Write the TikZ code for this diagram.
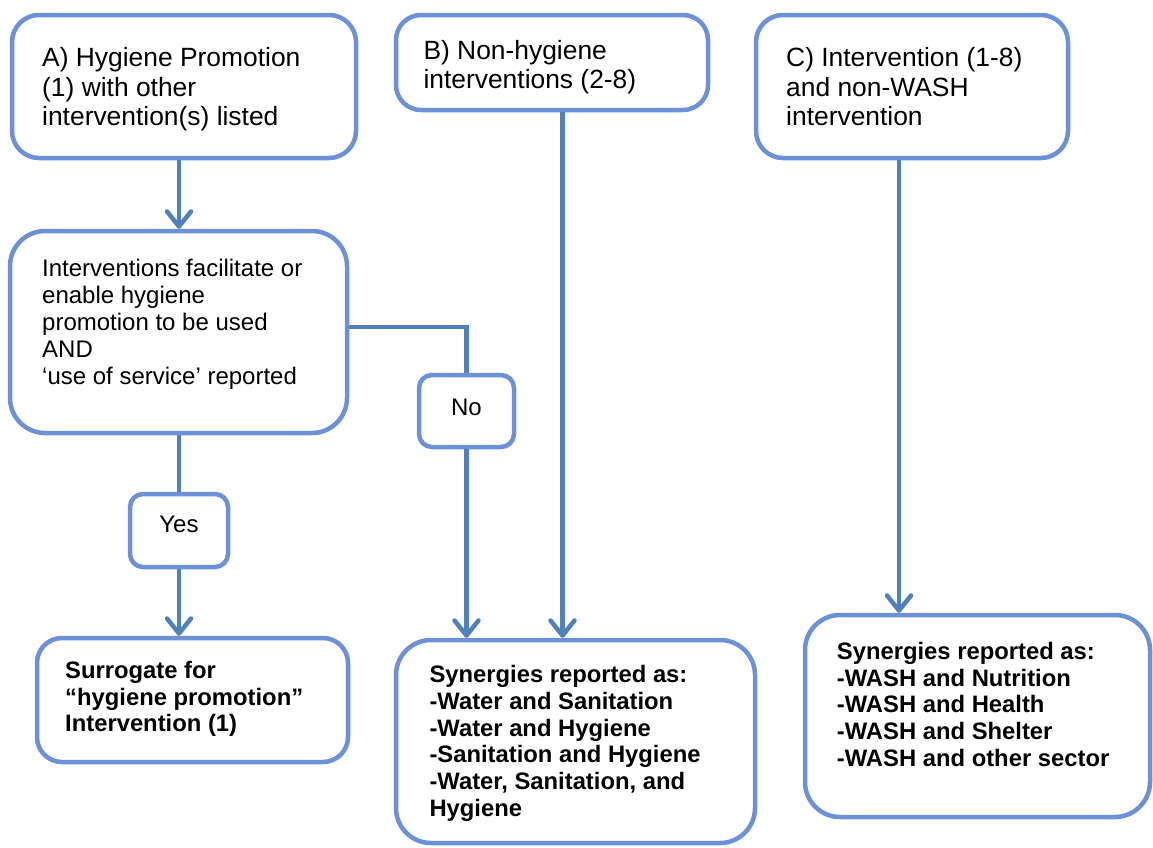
\documentclass[tikz,border=0pt]{standalone}
\usepackage{fontspec}
\setmainfont{Liberation Sans}
\usetikzlibrary{arrows.meta}

\definecolor{boxblue}{RGB}{108,145,217}
\definecolor{linkblue}{RGB}{79,129,189}

% left-aligned stack of lines whose baseline is the first line
\newcommand{\stacklines}[1]{\begin{tabular}[t]{@{}l@{}}#1\end{tabular}}
\newcommand{\headfont}{\fontsize{26.4}{29.4}\selectfont}
\newcommand{\bodyfont}{\fontsize{24}{27.2}\selectfont}
\newcommand{\listfont}{\fontsize{23.8}{26.7}\selectfont\bfseries}

\tikzset{
  panel/.style={draw=boxblue, line width=4.5pt, fill=white, inner sep=0pt},
  label/.style={anchor=base west, inner sep=0pt, text=black},
  link/.style={draw=linkblue, line width=4.5pt},
  arrowed/.style={-{Straight Barb[length=15pt,width=24pt,round]}}
}

\begin{document}
\begin{tikzpicture}[x=1pt,y=-1pt]
\useasboundingbox (0,0) rectangle (1153,847);

% boxes
\node[panel, rounded corners=27pt, minimum width=344pt, minimum height=143pt] (A) at (184,86.5) {};
\node[panel, rounded corners=25pt, minimum width=312pt, minimum height=95pt] (B) at (552,62.5) {};
\node[panel, rounded corners=27pt, minimum width=312pt, minimum height=143pt] (C) at (912,86.5) {};
\node[panel, rounded corners=35pt, minimum width=337pt, minimum height=202pt] (M) at (178.5,332) {};
\node[panel, rounded corners=13pt, minimum width=95pt, minimum height=72pt] (No) at (466.5,411) {};
\node[panel, rounded corners=13pt, minimum width=98pt, minimum height=73pt] (Yes) at (179,530.5) {};
\node[panel, rounded corners=25pt, minimum width=311pt, minimum height=124pt] (Sur) at (192.5,700) {};
\node[panel, rounded corners=35pt, minimum width=359pt, minimum height=203pt] (SynB) at (575.5,741.5) {};
\node[panel, rounded corners=35pt, minimum width=345pt, minimum height=202pt] (SynC) at (977.5,716) {};

% texts
\node[label] (tA) at (42,66.7) {\headfont\stacklines{A) Hygiene Promotion\\(1) with other\\intervention(s) listed}};
\node[label] (tB) at (423.3,59.3) {\headfont\stacklines{B) Non-hygiene\\interventions (2-8)}};
\node[label] (tC) at (786,66.7) {\headfont\stacklines{C) Intervention (1-8)\\and non-WASH\\intervention}};
\node[label] (tM) at (42,276) {\bodyfont\stacklines{Interventions facilitate or\\enable hygiene\\promotion to be used\\AND\\‘use of service’ reported}};
\node[anchor=base, inner sep=0pt] (tNo) at (466.5,415) {\bodyfont No};
\node[anchor=base, inner sep=0pt] (tYes) at (179,532.7) {\bodyfont Yes};
\node[label] (tSur) at (65,678.3) {\listfont\stacklines{Surrogate for\\“hygiene promotion”\\Intervention (1)}};
\node[label] (tSynB) at (429.3,682.7) {\listfont\stacklines{Synergies reported as:\\-Water and Sanitation\\-Water and Hygiene\\-Sanitation and Hygiene\\-Water, Sanitation, and\\Hygiene}};
\node[label] (tSynC) at (836.7,659.5) {\listfont\stacklines{Synergies reported as:\\-WASH and Nutrition\\-WASH and Health\\-WASH and Shelter\\-WASH and other sector}};

% connector columns and the branch row
\coordinate (colA) at (179,0);
\coordinate (colB) at (562.5,0);
\coordinate (colC) at (899,0);
\coordinate (rowNo) at (0,327);

\draw[link, arrowed] (A.south -| colA) -- (M.north -| colA);
\draw[link] (M.east |- rowNo) -| (No.north);
\draw[link, arrowed] (No.south) -- (SynB.north -| No.south);
\draw[link] (M.south -| colA) -- (Yes.north);
\draw[link, arrowed] (Yes.south) -- (Sur.north -| Yes.south);
\draw[link, arrowed] (B.south -| colB) -- (SynB.north -| colB);
\draw[link, arrowed] (C.south -| colC) -- (SynC.north -| colC);
\end{tikzpicture}
\end{document}
